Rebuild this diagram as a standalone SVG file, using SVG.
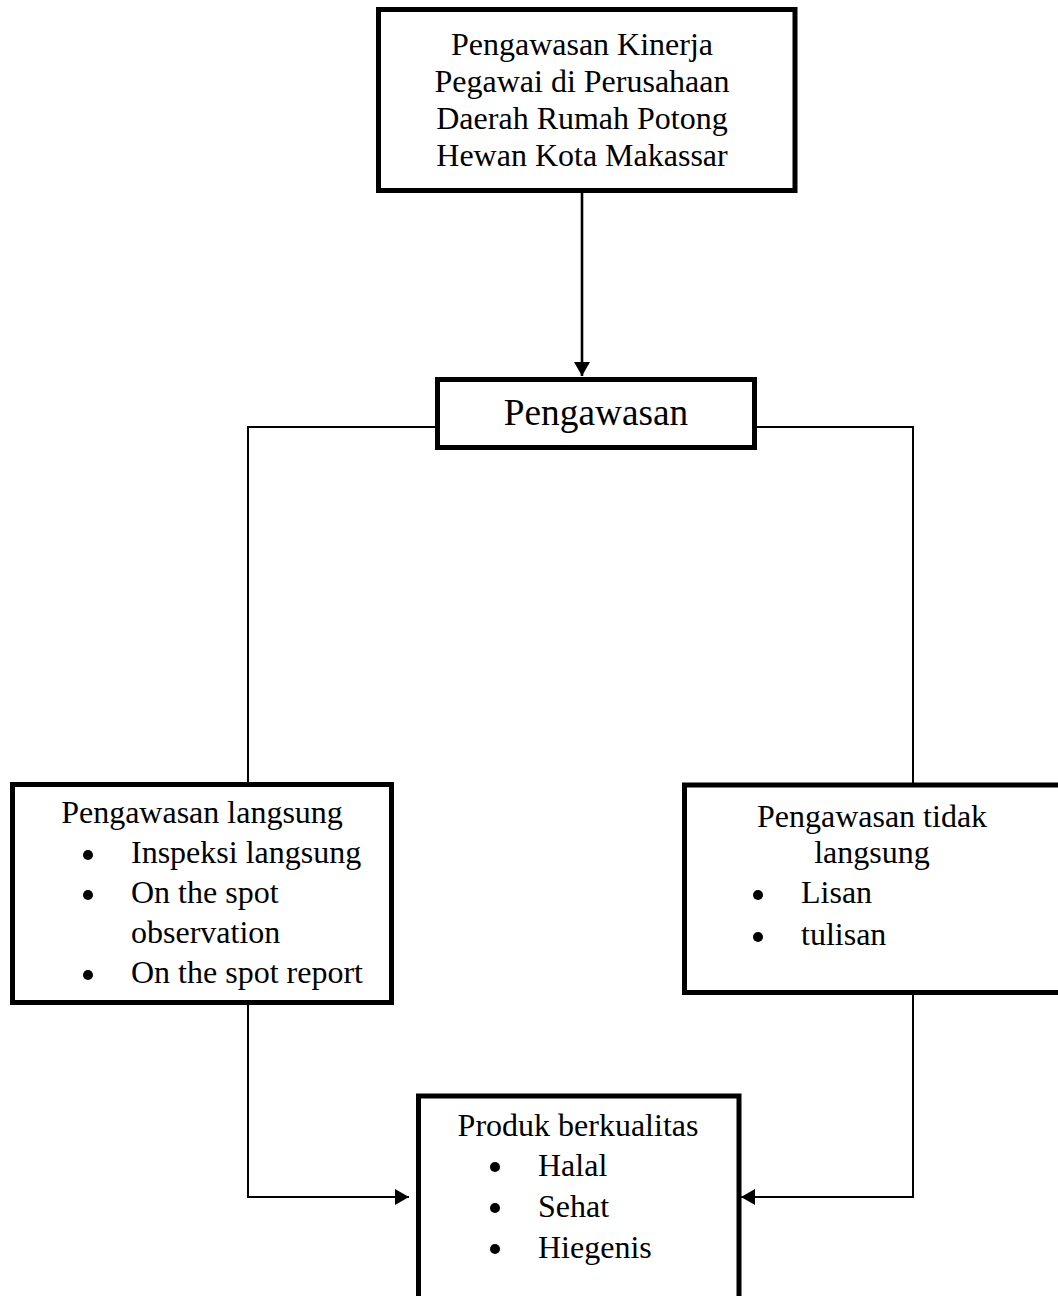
<svg xmlns="http://www.w3.org/2000/svg" width="1058" height="1296" viewBox="0 0 1058 1296">
  <style>
    .box { fill: #fff; stroke: #000; stroke-width: 5; }
    .t { font-family: "Liberation Serif", "Times New Roman", serif; font-size: 32px; fill: #000; }
    .tc { text-anchor: middle; }
    .conn { fill: none; stroke: #000; stroke-width: 2; }
    .bul { fill: #000; }
  </style>
  <defs>
    <marker id="arrow" markerUnits="userSpaceOnUse" markerWidth="14" markerHeight="16" refX="14" refY="8" orient="auto">
      <path d="M0,0 L14,8 L0,16 z" fill="#000"/>
    </marker>
  </defs>
  <rect width="1058" height="1296" fill="#fff"/>

  <g id="connectors">
    <path class="conn" style="stroke-width:2.6" d="M582,193 V376" marker-end="url(#arrow)"/>
    <path class="conn" d="M436,427 H248 V783"/>
    <path class="conn" d="M756,427 H913 V783"/>
    <path class="conn" d="M248,1004 V1197 H409" marker-end="url(#arrow)"/>
    <path class="conn" d="M913,994 V1197 H741" marker-end="url(#arrow)"/>
  </g>

  <g id="node-top">
    <rect class="box" x="378.5" y="9.5" width="416.5" height="181"/>
    <text class="t tc" x="582" y="55">Pengawasan Kinerja</text>
    <text class="t tc" x="582" y="92">Pegawai di Perusahaan</text>
    <text class="t tc" x="582" y="129">Daerah Rumah Potong</text>
    <text class="t tc" x="582" y="166">Hewan Kota Makassar</text>
  </g>

  <g id="node-pengawasan">
    <rect class="box" x="437.5" y="379.5" width="317" height="68"/>
    <text class="t tc" x="596" y="425" style="font-size:37.3px">Pengawasan</text>
  </g>

  <g id="node-langsung">
    <rect class="box" x="12.5" y="784.5" width="379" height="218"/>
    <text class="t tc" x="202" y="823">Pengawasan langsung</text>
    <circle class="bul" cx="88" cy="855" r="5"/>
    <text class="t" x="131" y="863">Inspeksi langsung</text>
    <circle class="bul" cx="88" cy="895" r="5"/>
    <text class="t" x="131" y="903">On the spot</text>
    <text class="t" x="131" y="943">observation</text>
    <circle class="bul" cx="88" cy="975" r="5"/>
    <text class="t" x="131" y="983">On the spot report</text>
  </g>

  <g id="node-tidak-langsung">
    <rect class="box" x="684.5" y="785" width="400" height="207.5"/>
    <text class="t tc" x="872" y="827">Pengawasan tidak</text>
    <text class="t tc" x="872" y="863">langsung</text>
    <circle class="bul" cx="758" cy="895" r="5"/>
    <text class="t" x="801" y="903">Lisan</text>
    <circle class="bul" cx="758" cy="937" r="5"/>
    <text class="t" x="801" y="945">tulisan</text>
  </g>

  <g id="node-produk">
    <rect class="box" x="418.5" y="1096" width="320.5" height="250"/>
    <text class="t tc" x="578" y="1136">Produk berkualitas</text>
    <circle class="bul" cx="495" cy="1167" r="5"/>
    <text class="t" x="538" y="1176">Halal</text>
    <circle class="bul" cx="495" cy="1208" r="5"/>
    <text class="t" x="538" y="1217">Sehat</text>
    <circle class="bul" cx="495" cy="1249" r="5"/>
    <text class="t" x="538" y="1258">Hiegenis</text>
  </g>
</svg>
